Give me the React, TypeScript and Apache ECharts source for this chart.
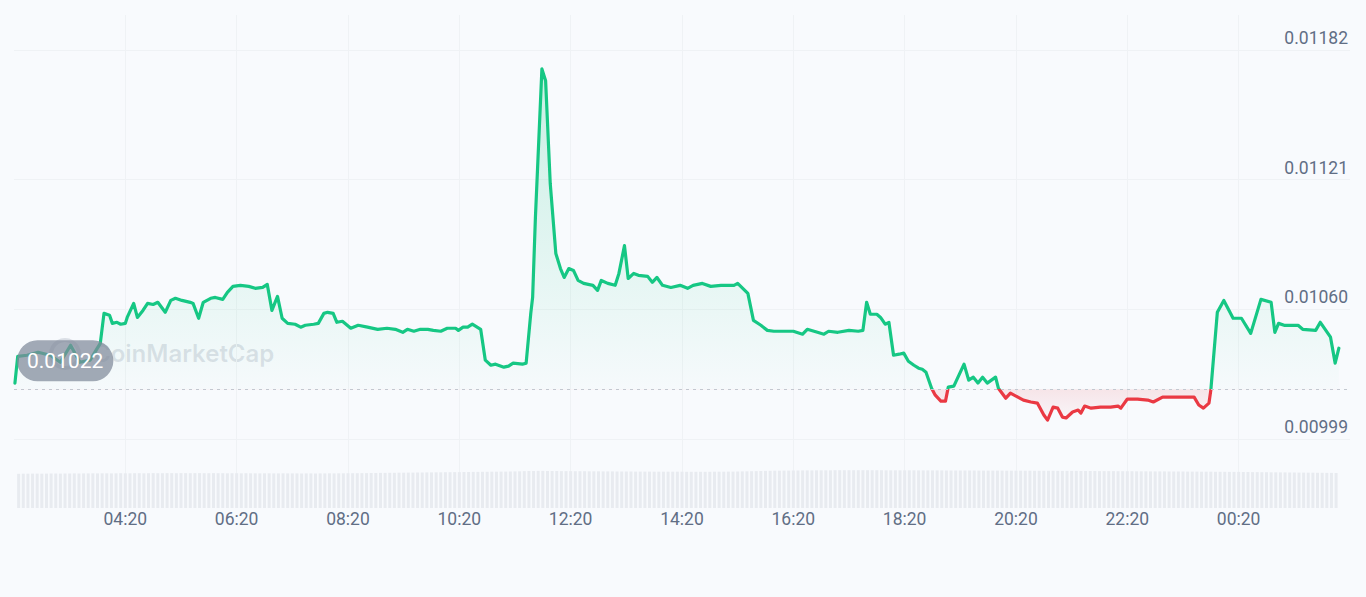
import React, { useEffect, useRef } from "react";
import * as echarts from "echarts";

// ---- price series (time of day, price in USD) ----
const priceTimes = [
  "02:21","02:24","02:34","02:46","02:59","03:10","03:21","03:31","03:42","03:53",
  "03:57","04:03","04:06","04:11","04:15","04:20","04:22","04:29","04:33","04:39",
  "04:44","04:50","04:55","05:03","05:09","05:14","05:21","05:30","05:33","05:39",
  "05:44","05:52","05:57","06:05","06:10","06:16","06:24","06:33","06:40","06:48",
  "06:53","06:58","07:04","07:09","07:15","07:23","07:29","07:34","07:43","07:48",
  "07:54","07:58","08:04","08:08","08:14","08:23","08:31","08:41","08:52","09:02",
  "09:11","09:19","09:24","09:31","09:38","09:46","09:52","10:00","10:07","10:16",
  "10:19","10:24","10:29","10:34","10:43","10:48","10:54","10:59","11:08","11:13",
  "11:18","11:28","11:32","11:37","11:39","11:42","11:49","11:53","11:58","12:04",
  "12:09","12:13","12:18","12:23","12:28","12:34","12:44","12:49","12:53","13:00",
  "13:08","13:12","13:18","13:22","13:28","13:33","13:43","13:48","13:53","13:59",
  "14:08","14:18","14:26","14:32","14:42","14:51","15:02","15:16","15:20","15:31",
  "15:37","15:45","15:52","15:59","16:06","16:20","16:30","16:35","16:46","16:53",
  "16:58","17:08","17:20","17:30","17:35","17:39","17:43","17:50","17:54","17:59",
  "18:03","18:08","18:14","18:19","18:24","18:30","18:35","18:39","18:43","18:49",
  "18:53","18:59","19:04","19:07","19:13","19:24","19:29","19:34","19:39","19:44",
  "19:49","19:58","20:01","20:09","20:14","20:22","20:28","20:36","20:43","20:50",
  "20:54","21:00","21:05","21:10","21:14","21:21","21:27","21:30","21:34","21:41",
  "21:51","22:02","22:10","22:13","22:20","22:31","22:42","22:48","22:58","23:10",
  "23:21","23:32","23:37","23:42","23:48","23:50","23:57","00:04","00:14","00:23",
  "00:33","00:44","00:55","00:59","01:03","01:09","01:24","01:29","01:43","01:48",
  "01:59","02:04","02:08"
];

const priceValues = [
  0.010253,0.010379,0.010384,0.010398,0.010384,0.010351,0.010431,0.010351,0.010361,0.010440,
  0.010581,0.010572,0.010534,0.010539,0.010530,0.010534,0.010562,0.010628,0.010562,0.010595,
  0.010628,0.010623,0.010633,0.010586,0.010642,0.010652,0.010642,0.010633,0.010628,0.010558,
  0.010633,0.010652,0.010656,0.010647,0.010680,0.010708,0.010713,0.010708,0.010699,0.010703,
  0.010717,0.010595,0.010661,0.010558,0.010534,0.010530,0.010516,0.010525,0.010530,0.010534,
  0.010581,0.010586,0.010581,0.010539,0.010544,0.010511,0.010525,0.010516,0.010506,0.010511,
  0.010506,0.010492,0.010506,0.010497,0.010506,0.010506,0.010501,0.010497,0.010511,0.010511,
  0.010501,0.010516,0.010516,0.010530,0.010506,0.010361,0.010337,0.010342,0.010328,0.010333,
  0.010347,0.010342,0.010347,0.010581,0.010656,0.011032,0.011731,0.011675,0.011191,0.010863,
  0.010792,0.010750,0.010792,0.010783,0.010736,0.010722,0.010713,0.010689,0.010736,0.010722,
  0.010713,0.010769,0.010900,0.010745,0.010769,0.010760,0.010755,0.010727,0.010750,0.010713,
  0.010703,0.010713,0.010699,0.010713,0.010722,0.010708,0.010713,0.010713,0.010722,0.010675,
  0.010548,0.010525,0.010501,0.010497,0.010497,0.010497,0.010483,0.010506,0.010492,0.010483,
  0.010497,0.010492,0.010501,0.010497,0.010501,0.010633,0.010577,0.010577,0.010562,0.010530,
  0.010539,0.010384,0.010389,0.010394,0.010356,0.010337,0.010323,0.010318,0.010304,0.010229,
  0.010196,0.010168,0.010168,0.010234,0.010239,0.010342,0.010267,0.010281,0.010253,0.010281,
  0.010253,0.010281,0.010229,0.010182,0.010206,0.010187,0.010173,0.010164,0.010159,0.010103,
  0.010079,0.010140,0.010135,0.010093,0.010089,0.010117,0.010126,0.010112,0.010145,0.010135,
  0.010140,0.010140,0.010145,0.010135,0.010178,0.010178,0.010173,0.010164,0.010187,0.010187,
  0.010187,0.010187,0.010150,0.010135,0.010159,0.010220,0.010586,0.010642,0.010558,0.010558,
  0.010487,0.010647,0.010633,0.010492,0.010534,0.010525,0.010525,0.010506,0.010501,0.010539,
  0.010469,0.010347,0.010417
];

// opening price of the period (dashed reference line)
const openPrice = 0.010224;

// ---- 24h volume (millions USD), one bar every 5 minutes from 02:25 ----
const volumeStart = "02:25";
const volumeStepMinutes = 5;
const volumeValues = [
  3.42,3.43,3.43,3.44,3.44,3.43,3.44,3.45,3.45,3.44,3.45,3.45,
  3.46,3.45,3.46,3.46,3.47,3.46,3.47,3.47,3.46,3.47,3.48,3.47,
  3.47,3.48,3.48,3.47,3.48,3.49,3.48,3.48,3.49,3.49,3.48,3.49,
  3.49,3.48,3.49,3.49,3.48,3.48,3.49,3.48,3.48,3.47,3.48,3.48,
  3.47,3.48,3.47,3.47,3.46,3.47,3.47,3.46,3.46,3.47,3.46,3.46,
  3.46,3.45,3.46,3.46,3.45,3.46,3.46,3.47,3.46,3.47,3.47,3.48,
  3.48,3.48,3.49,3.49,3.50,3.50,3.51,3.51,3.52,3.52,3.53,3.53,
  3.54,3.54,3.55,3.55,3.56,3.56,3.57,3.57,3.58,3.58,3.59,3.59,
  3.60,3.60,3.61,3.61,3.62,3.62,3.63,3.63,3.64,3.64,3.65,3.66,
  3.67,3.69,3.70,3.70,3.71,3.71,3.70,3.70,3.70,3.69,3.69,3.69,
  3.68,3.68,3.68,3.67,3.67,3.67,3.66,3.66,3.66,3.65,3.65,3.65,
  3.65,3.64,3.64,3.64,3.64,3.63,3.63,3.63,3.63,3.63,3.63,3.63,
  3.62,3.62,3.62,3.62,3.62,3.62,3.63,3.63,3.63,3.64,3.64,3.65,
  3.66,3.67,3.68,3.69,3.70,3.71,3.72,3.73,3.73,3.74,3.74,3.75,
  3.75,3.76,3.76,3.76,3.77,3.77,3.77,3.77,3.78,3.78,3.78,3.78,
  3.78,3.78,3.78,3.78,3.78,3.78,3.78,3.77,3.77,3.77,3.77,3.77,
  3.77,3.77,3.76,3.76,3.76,3.76,3.76,3.76,3.75,3.75,3.75,3.75,
  3.75,3.75,3.75,3.74,3.74,3.74,3.74,3.74,3.74,3.73,3.73,3.73,
  3.73,3.73,3.73,3.72,3.72,3.72,3.72,3.72,3.71,3.71,3.71,3.71,
  3.71,3.70,3.70,3.70,3.70,3.69,3.69,3.69,3.69,3.68,3.68,3.68,
  3.68,3.67,3.67,3.67,3.66,3.66,3.66,3.66,3.65,3.65,3.65,3.65,
  3.64,3.64,3.64,3.63,3.63,3.63,3.62,3.62,3.62,3.61,3.61,3.61,
  3.60,3.60,3.59,3.59,3.58,3.58,3.57,3.57,3.56,3.56,3.55,3.55,
  3.54,3.54,3.53,3.53,3.52,3.52,3.51,3.51,3.50
];

// ---- axis tick labels ----
const xTickLabels = ["04:20","06:20","08:20","10:20","12:20","14:20","16:20","18:20","20:20","22:20","00:20"];
const yTickLabels = ["0.00999","0.01060","0.01121","0.01182"];

const GREEN = "#16c784";
const RED = "#ea3943";
const LABEL_COLOR = "#616e85";
const GRID_COLOR = "#eff2f5";

const clockToMinutes = (s: string) => {
  const [h, m] = s.split(":").map(Number);
  return h * 60 + m;
};

// convert a list of clock times to a monotonically increasing minute scale
const toTimeline = (times: string[]) => {
  let dayOffset = 0;
  let prev = -1;
  return times.map((t) => {
    let m = clockToMinutes(t) + dayOffset;
    if (m < prev) {
      dayOffset += 1440;
      m += 1440;
    }
    prev = m;
    return m;
  });
};

export default function App() {
  const ref = useRef<HTMLDivElement>(null);

  useEffect(() => {
    if (!ref.current) return;
    const chart = echarts.init(ref.current, undefined, { renderer: "svg" });

    const priceX = toTimeline(priceTimes);
    const priceData = priceX.map((x, i) => [x, priceValues[i]]);

    const volStart = clockToMinutes(volumeStart);
    const volumeData = volumeValues.map((v, i) => [volStart + i * volumeStepMinutes, v]);

    const xTickMinutes = toTimeline(xTickLabels);
    const xInterval = xTickMinutes[1] - xTickMinutes[0];
    const xMin = xTickMinutes[0] - xInterval;
    const xMax = xMin + 1440;

    const yTickVals = yTickLabels.map(Number);
    const yMin = yTickVals[0];
    const yInterval = (yTickVals[yTickVals.length - 1] - yTickVals[0]) / (yTickVals.length - 1);
    const yMax = yTickVals[yTickVals.length - 1] + yInterval * 0.27;

    const xLabelFmt = (v: number) => {
      const idx = xTickMinutes.findIndex((t) => Math.abs(t - v) < 0.5);
      return idx >= 0 ? xTickLabels[idx] : "";
    };
    const yLabelFmt = (v: number) => {
      const idx = yTickVals.findIndex((t) => Math.abs(t - v) < 1e-7);
      return idx >= 0 ? yTickLabels[idx] : "";
    };

    const allVals = priceValues.concat([openPrice]);
    const vMax = Math.max(...allVals);
    const vMin = Math.min(...allVals);
    const baseOff = (vMax - openPrice) / (vMax - vMin);

    const areaGradient = new echarts.graphic.LinearGradient(0, 0, 0, 1, [
      { offset: 0, color: "rgba(22,199,132,0.3)" },
      { offset: baseOff, color: "rgba(22,199,132,0.015)" },
      { offset: baseOff, color: "rgba(234,57,67,0.16)" },
      { offset: 1, color: "rgba(234,57,67,0.03)" },
    ]);

    const splitLine = {
      show: true,
      showMinLine: false,
      showMaxLine: false,
      lineStyle: { color: GRID_COLOR, width: 1 },
    };

    chart.setOption({
      animation: false,
      backgroundColor: "transparent",
      textStyle: { fontFamily: "Roboto" },
      grid: [
        { left: 14, right: 16, top: 15, height: 424 },
        { left: 14, right: 16, top: 439, height: 69 },
      ],
      xAxis: [
        {
          type: "value",
          gridIndex: 0,
          min: xMin,
          max: xMax,
          interval: xInterval,
          axisLine: { show: false },
          axisTick: { show: false },
          axisLabel: { show: false },
          splitLine,
        },
        {
          type: "value",
          gridIndex: 1,
          min: xMin,
          max: xMax,
          interval: xInterval,
          axisLine: { show: false },
          axisTick: { show: false },
          axisLabel: {
            show: true,
            formatter: xLabelFmt,
            color: LABEL_COLOR,
            fontSize: 17.5,
            margin: 2,
            showMinLabel: false,
            showMaxLabel: false,
          },
          splitLine,
        },
      ],
      yAxis: [
        {
          type: "value",
          gridIndex: 0,
          position: "right",
          min: yMin,
          max: yMax,
          interval: yInterval,
          axisLine: { show: false },
          axisTick: { show: false },
          axisLabel: {
            inside: true,
            margin: 2,
            verticalAlign: "bottom",
            formatter: yLabelFmt,
            color: LABEL_COLOR,
            fontSize: 17.5,
            padding: [0, 0, 3, 0],
          },
          splitLine: {
            show: true,
            showMaxLine: false,
            lineStyle: { color: GRID_COLOR, width: 1 },
          },
        },
        {
          type: "value",
          gridIndex: 1,
          min: 0,
          max: 6.9,
          show: false,
          splitLine: { show: false },
        },
      ],
      visualMap: {
        show: false,
        type: "piecewise",
        seriesIndex: 0,
        dimension: 1,
        pieces: [
          { gt: openPrice, lte: 1, color: GREEN },
          { gte: 0, lte: openPrice, color: RED },
        ],
      },
      graphic: [
        {
          type: "ring",
          shape: { cx: 65, cy: 354, r: 16, r0: 12 },
          style: { fill: "rgba(150,160,176,0.3)" },
          z: 0,
        },
        {
          type: "text",
          left: 93,
          top: 341,
          style: {
            text: "CoinMarketCap",
            font: "600 24px Inter",
            fill: "rgba(150,160,176,0.28)",
          },
          z: 0,
        },
      ],
      series: [
        {
          type: "line",
          xAxisIndex: 0,
          yAxisIndex: 0,
          data: priceData,
          showSymbol: false,
          symbol: "none",
          z: 3,
          lineStyle: { width: 3.2, join: "round", cap: "round" },
          areaStyle: { origin: openPrice, color: areaGradient },
          markLine: {
            silent: true,
            symbol: "none",
            data: [
              [
                { coord: [xMin, openPrice] },
                { coord: [xMax, openPrice] },
              ],
            ],
            lineStyle: { color: "#c3c8d0", type: [3, 4], width: 1 },
            label: {
              show: true,
              position: "insideStartTop",
              formatter: openPrice.toFixed(5),
              distance: [3, 8],
              color: "#ffffff",
              fontSize: 21,
              fontFamily: "Roboto",
              lineHeight: 25,
              backgroundColor: "rgba(128,137,154,0.72)",
              borderRadius: 21,
              padding: [8, 10],
            },
          },
        },
        {
          type: "bar",
          xAxisIndex: 1,
          yAxisIndex: 1,
          data: volumeData,
          barWidth: 3,
          silent: true,
          itemStyle: { color: "#e8ebf0" },
        },
      ],
    });

    return () => chart.dispose();
  }, []);

  return (
    <div
      style={{
        position: "fixed",
        left: 0,
        top: 0,
        width: 1366,
        height: 597,
        background: "#f8fafd",
      }}
    >
      <div ref={ref} style={{ width: 1366, height: 597 }} />
    </div>
  );
}
